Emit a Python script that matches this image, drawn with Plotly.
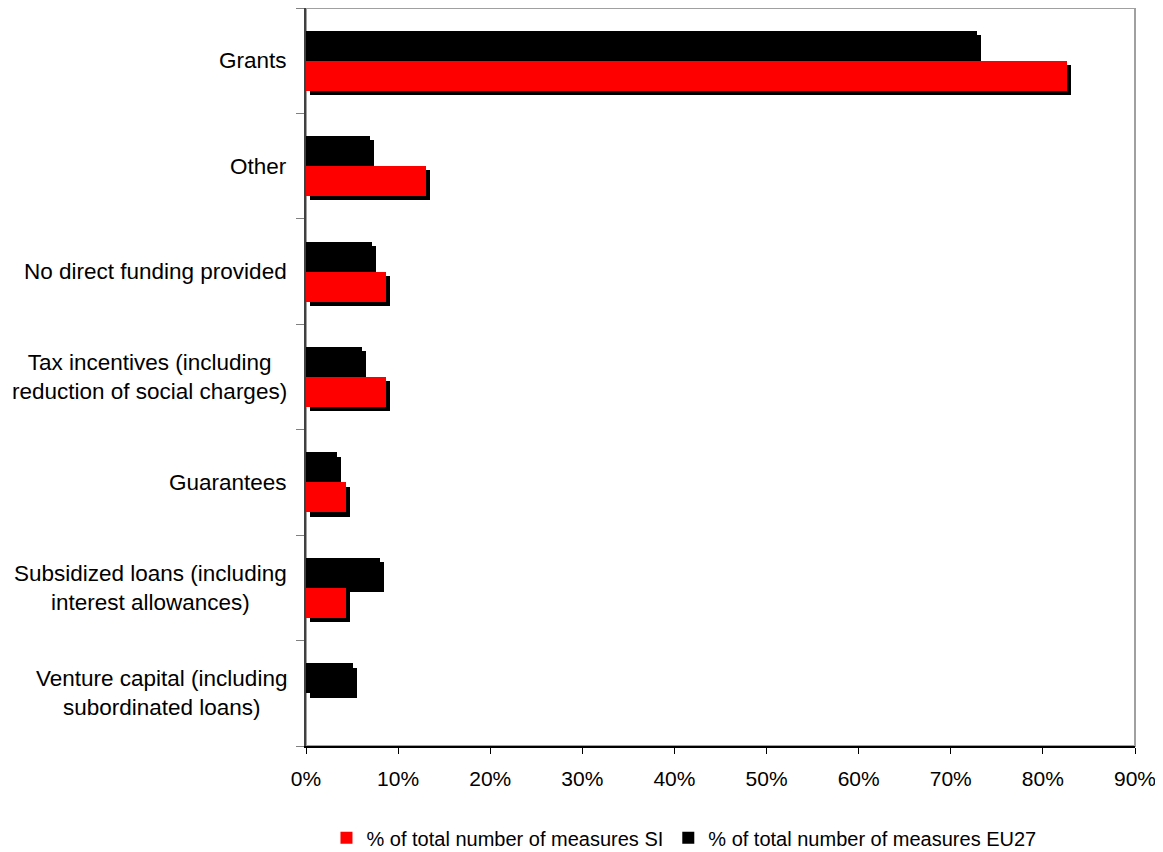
import plotly.graph_objects as go

# Categories listed from bottom to top (as drawn)
categories = [
    "Venture capital (including<br>subordinated loans)",
    "Subsidized loans (including<br>interest allowances)",
    "Guarantees",
    "Tax incentives (including<br>reduction of social charges)",
    "No direct funding provided",
    "Other",
    "Grants",
]
si_values = [0.0, 4.3, 4.3, 8.7, 8.7, 13.0, 82.6]
eu27_values = [5.1, 8.0, 3.4, 6.1, 7.2, 6.9, 72.8]
series_names = ["% of total number of measures SI", "% of total number of measures EU27"]
x_ticks = [0, 10, 20, 30, 40, 50, 60, 70, 80, 90]

FONT = "Liberation Sans, Arial, sans-serif"
BAR_W = 0.284
SH_DX = 0.45   # shadow shift along value axis (data units)
SH_DY = 0.04   # shadow shift along category axis (category units)

fig = go.Figure()

# Shadows
for vals, off in ((si_values, -BAR_W), (eu27_values, 0.0)):
    fig.add_trace(go.Bar(
        y=categories, x=vals, base=[SH_DX] * len(vals), orientation="h",
        width=BAR_W, offset=off - SH_DY,
        marker=dict(color="#000000", line=dict(width=0)),
        showlegend=False, hoverinfo="skip",
    ))

# EU27 (upper bar)
fig.add_trace(go.Bar(
    y=categories, x=eu27_values, orientation="h",
    width=BAR_W, offset=0.0,
    marker=dict(color="#000000", line=dict(width=0)),
    name=series_names[1], legendrank=2,
))
# SI (lower bar)
fig.add_trace(go.Bar(
    y=categories, x=si_values, orientation="h",
    width=BAR_W, offset=-BAR_W,
    marker=dict(color="#FF0000", line=dict(width=0)),
    name=series_names[0], legendrank=1,
))

# Centered multi-line category labels
for c in categories:
    fig.add_annotation(
        x=0, xref="paper", y=c, yref="y", text=c, showarrow=False,
        xanchor="right", yanchor="middle", xshift=-17, align="center",
        font=dict(family=FONT, size=22.5, color="#000000"),
    )

# Plot frame (gray)
fig.add_shape(type="rect", xref="paper", yref="paper", x0=0, x1=1, y0=0, y1=1,
              line=dict(color="#A0A0A0", width=2), layer="below")

fig.update_layout(
    width=1155, height=844,
    margin=dict(l=298, r=28, t=0, b=106, autoexpand=False),
    paper_bgcolor="white", plot_bgcolor="white",
    barmode="overlay",
    font=dict(family=FONT, size=21, color="#000000"),
    legend=dict(orientation="h", x=0.0247, xanchor="left", y=-0.098, yanchor="top",
                font=dict(family=FONT, size=20), itemwidth=30,
                traceorder="normal", tracegroupgap=0),
    xaxis=dict(range=[0, 90], tickvals=x_ticks, ticktext=[f"{t}%" for t in x_ticks],
               showgrid=False, zeroline=False, showline=True, linecolor="#000000",
               linewidth=1.5, ticks="outside", ticklen=6, tickcolor="#000000",
               ticklabelstandoff=7,
               tickfont=dict(family=FONT, size=21)),
    yaxis=dict(categoryorder="array", categoryarray=categories,
               range=[-0.5, 6.5], showticklabels=False,
               showgrid=False, zeroline=False, showline=True, linecolor="#404040",
               linewidth=2, ticks="outside", ticklen=8, tickcolor="#808080",
               tickson="boundaries"),
    bargap=0,
)

fig.write_html("out.html")
